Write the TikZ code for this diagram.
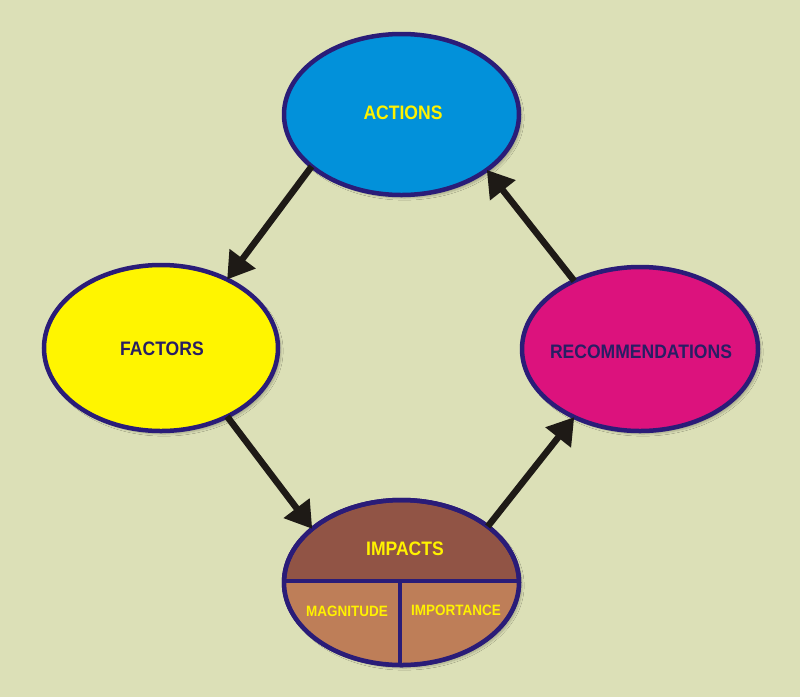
\documentclass[tikz,border=0pt]{standalone}
\usepackage{fontspec}
\setmainfont{Liberation Sans}
\newfontfamily\labfont{Liberation Sans}[FakeStretch=0.9]
\usetikzlibrary{shapes.geometric,arrows.meta,shadows.blur}
\definecolor{bg}{RGB}{220,224,183}
\definecolor{actblue}{RGB}{2,145,218}
\definecolor{facyellow}{RGB}{255,245,0}
\definecolor{recmag}{RGB}{220,18,125}
\definecolor{border}{RGB}{42,28,120}
\definecolor{imptop}{RGB}{145,84,69}
\definecolor{impbot}{RGB}{190,126,88}
\definecolor{navytext}{RGB}{40,30,100}
\definecolor{txtyellow}{RGB}{255,242,0}
\definecolor{arrowc}{RGB}{30,26,22}
\tikzset{
  blob/.style={ellipse, draw=border, line width=4.5pt, inner sep=0pt, outer sep=0pt,
    blur shadow={shadow xshift=3pt, shadow yshift=-3pt, shadow blur steps=6, shadow opacity=25}},
  lab/.style={font=\labfont\bfseries\fontsize{19.5}{22}\selectfont, inner sep=0pt},
  sublab/.style={font=\labfont\bfseries\fontsize{15}{17}\selectfont, inner sep=0pt, text=txtyellow},
  flow/.style={draw=arrowc, line width=6.5pt, -{Triangle[length=26pt,width=31pt]}},
}
\begin{document}
\begin{tikzpicture}[x=1pt,y=-1pt]
\fill[bg] (0,0) rectangle (800,697);
\useasboundingbox (0,0) rectangle (800,697);
% ellipses
\node[blob, fill=actblue, minimum width=235pt, minimum height=161pt] (actions) at (401.5,114.5) {};
\node[blob, fill=facyellow, minimum width=234pt, minimum height=166pt] (factors) at (161,348) {};
\node[blob, fill=recmag, minimum width=236pt, minimum height=164pt] (recs) at (640,349) {};
\node[blob, fill=imptop, minimum width=235pt, minimum height=165pt] (impacts) at (401.5,582.5) {};
% lower part of impacts
\begin{scope}
  \clip (impacts.center) ellipse [x radius=117.5pt, y radius=82.5pt];
  \fill[impbot] (270,580) rectangle (530,680);
\end{scope}
\draw[border, line width=4.5pt] (impacts.center) ellipse [x radius=117.5pt, y radius=82.5pt];
\coordinate (divl) at ([yshift=2pt]impacts.west);
\coordinate (divr) at ([yshift=2pt]impacts.east);
\draw[border, line width=4pt] (divl) -- (divr);
\coordinate (divc) at ([xshift=-1.5pt,yshift=2pt]impacts.center);
\draw[border, line width=4pt] (divc) -- ([xshift=-1.5pt]impacts.south);
% labels
\node[lab, text=txtyellow] (tact) at (403,113) {ACTIONS};
\node[lab, text=navytext] (tfac) at (162,349) {FACTORS};
\node[lab, text=navytext] (trec) at (641,352) {RECOMMENDATIONS};
\node[lab, text=txtyellow] (timp) at (405,549) {IMPACTS};
\node[sublab] (tmag) at (347,611) {MAGNITUDE};
\node[sublab] (timpt) at (456,610) {IMPORTANCE};
% arrows
\draw[flow] (actions.210) -- (factors.46);
\draw[flow] (factors.-46) -- (impacts.149);
\draw[flow] (impacts.33) -- (recs.-134.6);
\draw[flow] (recs.134.6) -- (actions.-33);
\end{tikzpicture}
\end{document}
